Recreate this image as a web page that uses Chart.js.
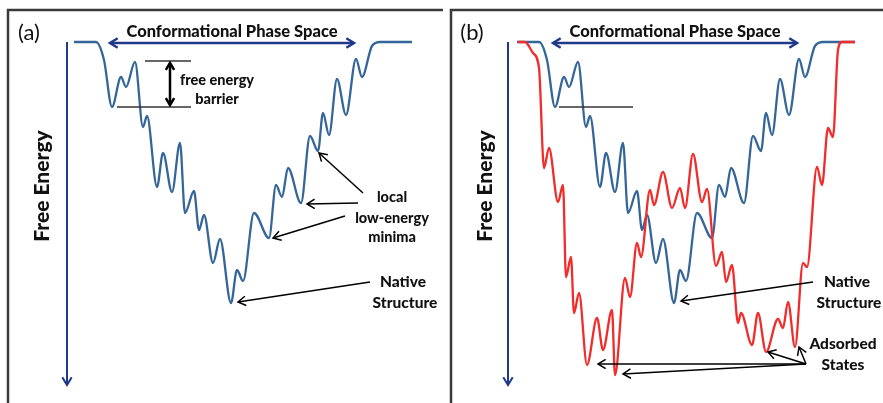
<!DOCTYPE html>
<html>
<head>
<meta charset="utf-8">
<script src="https://cdn.jsdelivr.net/npm/chart.js@4.4.1/dist/chart.umd.min.js"></script>
<style>
  body { margin: 0; background: #fff; }
  #wrap { position: relative; width: 883px; height: 403px; }
  canvas { position: absolute; top: 0; }
</style>
</head>
<body>
<div id="wrap">
  <canvas id="panelA" width="443" height="403" style="left:0"></canvas>
  <canvas id="panelB" width="440" height="403" style="left:443px"></canvas>
</div>
<script>
// conformation coordinate and free energy (0 = unfolded plateau, down = lower energy)
// folding landscape in solution (blue), same in both panels
const foldX = [0, 22, 30, 38, 47, 52, 61, 69, 73, 83, 89, 98, 106, 111, 120, 125, 130, 139, 146, 157,
  163, 169, 180, 195, 202, 208, 214, 227, 236, 244, 249, 255, 263, 272, 282, 288, 298, 306, 338];
const foldE = [0, 0, -18, -65, -35, -45, -20, -85, -74, -145, -111, -150, -101, -171, -149, -188, -173, -221, -197, -261,
  -228, -239, -171, -196, -143, -155, -126, -161, -94, -109, -71, -93, -37, -73, -17, -35, -4, 0, 0];

// landscape on the surface (red), panel (b)
const adsorbX = [1, 8, 16, 22, 27, 32, 41, 46, 49, 54, 57, 62, 70, 80, 86, 95, 98, 108, 113, 120,
  124, 133, 137, 146, 155, 163, 168, 176, 185, 190, 199, 205, 209, 215, 221, 224, 235, 241, 249, 261,
  266, 271, 278, 286, 290, 300, 305, 311, 316, 321, 325, 338];
const adsorbE = [0, 0, -11, -26, -126, -106, -160, -143, -235, -215, -271, -251, -323, -276, -308, -268, -333, -236, -255, -201,
  -215, -148, -163, -130, -166, -146, -166, -112, -160, -147, -224, -210, -240, -223, -281, -271, -303, -271, -310, -277,
  -286, -260, -305, -221, -225, -125, -143, -86, -95, -8, 0, 0];

const xMin = -74;
const eMin = -361, eMax = 42;
const navy = '#1f3a8a';
const ink = '#111111';

function pts(xs, es) {
  return xs.map((x, i) => ({ x: x, y: es[i] }));
}

function head(ctx, x1, y1, x2, y2, size) {
  const a = Math.atan2(y2 - y1, x2 - x1);
  ctx.beginPath();
  ctx.moveTo(x2 - size * Math.cos(a - 0.55), y2 - size * Math.sin(a - 0.55));
  ctx.lineTo(x2, y2);
  ctx.lineTo(x2 - size * Math.cos(a + 0.55), y2 - size * Math.sin(a + 0.55));
  ctx.stroke();
}

function notesPlugin(notes) {
  return {
    id: 'notes',
    afterDatasetsDraw(chart) {
      const ctx = chart.ctx;
      const sx = v => chart.scales.x.getPixelForValue(v);
      const sy = v => chart.scales.y.getPixelForValue(v);
      ctx.save();
      ctx.lineCap = 'butt';

      (notes.lines || []).forEach(l => {
        ctx.strokeStyle = l.color;
        ctx.lineWidth = l.width;
        ctx.beginPath();
        l.path.forEach((p, i) => i ? ctx.lineTo(sx(p[0]), sy(p[1])) : ctx.moveTo(sx(p[0]), sy(p[1])));
        ctx.stroke();
      });

      (notes.arrows || []).forEach(a => {
        const x1 = sx(a.from[0]), y1 = sy(a.from[1]);
        const x2 = sx(a.to[0]), y2 = sy(a.to[1]);
        ctx.strokeStyle = a.color;
        ctx.lineWidth = a.width;
        ctx.beginPath();
        ctx.moveTo(x1, y1);
        ctx.lineTo(x2, y2);
        ctx.stroke();
        head(ctx, x1, y1, x2, y2, a.head);
        if (a.both) head(ctx, x2, y2, x1, y1, a.head);
      });

      (notes.texts || []).forEach(t => {
        ctx.fillStyle = t.color || ink;
        ctx.font = t.font;
        ctx.textAlign = 'center';
        ctx.textBaseline = 'middle';
        ctx.save();
        ctx.translate(sx(t.at[0]), sy(t.at[1]));
        if (t.rotate) ctx.rotate(t.rotate);
        ctx.fillText(t.text, 0, 0);
        ctx.restore();
      });
      ctx.restore();
    }
  };
}

function common(label, xMax, axisX) {
  return {
    lines: [
      { path: [[-66, eMin], [-66, 32], [xMax, 32]], color: '#3a3a3a', width: 2.5 }
    ],
    arrows: [
      { from: [axisX, 0], to: [axisX, -343], color: navy, width: 2, head: 9 },
      { from: [36, -1], to: [280, -1], color: navy, width: 2.5, head: 9, both: true }
    ],
    texts: [
      { text: 'Conformational Phase Space', at: [158, 10], font: '900 16.5px Lato' },
      { text: 'Free Energy', at: [-32, -144], font: '900 21px Lato', rotate: -Math.PI / 2 },
      { text: label, at: [-45, 9], font: '22px Lato' }
    ]
  };
}

function merge(a, b) {
  return {
    lines: a.lines.concat(b.lines || []),
    arrows: a.arrows.concat(b.arrows || []),
    texts: a.texts.concat(b.texts || [])
  };
}

const noteFont = '900 14.5px Lato';
const bigNote = '900 15.5px Lato';

const notesA = merge(common('(a)', 369, -7), {
  lines: [
    { path: [[71, -19], [117, -19]], color: '#333', width: 1.5 },
    { path: [[43, -65], [117, -65]], color: '#333', width: 1.5 }
  ],
  arrows: [
    { from: [96, -21], to: [96, -63], color: '#000', width: 2.5, head: 8, both: true },
    { from: [289, -151], to: [245, -111], color: '#000', width: 1.5, head: 9 },
    { from: [284, -161], to: [233, -162], color: '#000', width: 1.5, head: 9 },
    { from: [271, -174], to: [199, -196], color: '#000', width: 1.5, head: 9 },
    { from: [296, -240], to: [164, -260], color: '#000', width: 1.5, head: 9 }
  ],
  texts: [
    { text: 'free energy', at: [143, -38], font: noteFont },
    { text: 'barrier', at: [143, -57], font: noteFont },
    { text: 'local', at: [318, -155], font: noteFont },
    { text: 'low-energy', at: [318, -176], font: noteFont },
    { text: 'minima', at: [318, -195], font: noteFont },
    { text: 'Native', at: [329, -240], font: bigNote },
    { text: 'Structure', at: [331, -261], font: bigNote }
  ]
});

const notesB = merge(common('(b)', 366, -9), {
  lines: [
    { path: [[42, -65], [116, -65]], color: '#333', width: 1.5 }
  ],
  arrows: [
    { from: [296, -240], to: [164, -259], color: '#000', width: 1.5, head: 9 },
    { from: [289, -322], to: [81, -322], color: '#000', width: 1.5, head: 9 },
    { from: [289, -322], to: [106, -332], color: '#000', width: 1.5, head: 9 },
    { from: [289, -322], to: [251, -310], color: '#000', width: 1.5, head: 9 },
    { from: [289, -322], to: [282, -305], color: '#000', width: 1.5, head: 9 }
  ],
  texts: [
    { text: 'Native', at: [330, -240], font: bigNote },
    { text: 'Structure', at: [332, -261], font: bigNote },
    { text: 'Adsorbed', at: [326, -302], font: bigNote },
    { text: 'States', at: [326, -323], font: bigNote }
  ]
});

function lineSet(xs, es, color, order) {
  return {
    data: pts(xs, es),
    borderColor: color,
    borderWidth: 2.3,
    pointRadius: 0,
    fill: false,
    cubicInterpolationMode: 'monotone',
    order: order
  };
}

function makeChart(id, datasets, xMax, notes) {
  return new Chart(document.getElementById(id), {
    type: 'line',
    data: { datasets: datasets },
    options: {
      responsive: false,
      animation: false,
      events: [],
      layout: { padding: 0 },
      plugins: { legend: { display: false }, tooltip: { enabled: false } },
      scales: {
        x: { type: 'linear', min: xMin, max: xMax, display: false },
        y: { type: 'linear', min: eMin, max: eMax, display: false }
      }
    },
    plugins: [notesPlugin(notes)]
  });
}

makeChart('panelA', [lineSet(foldX, foldE, '#35669a', 0)], 369, notesA);
makeChart('panelB', [
  lineSet(adsorbX, adsorbE, '#f22b2b', 0),
  lineSet(foldX, foldE, '#35669a', 1)
], 366, notesB);
</script>
</body>
</html>
